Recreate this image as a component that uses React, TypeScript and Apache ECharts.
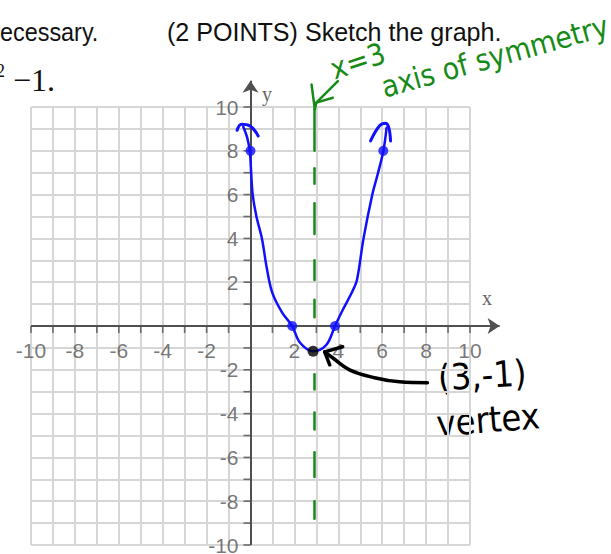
import React, { useEffect, useRef } from "react";
import * as echarts from "echarts";

// ---- data ----
const xTicks = { min: -10, max: 10, step: 1 };
const yTicks = { min: -10, max: 10, step: 1 };
const xLabelValues = [-10, -8, -6, -4, -2, 2, 4, 6, 8, 10];
const yLabelValues = [-10, -8, -6, -4, -2, 2, 4, 6, 8, 10];

// hand-drawn parabola y = (x-3)^2 - 1
const curvePoints: [number, number][] = [
  [-0.33, 9.1], [-0.15, 8.6], [-0.03, 7.95], [0.03, 7.0], [0.1, 6.0], [0.27, 5.0],
  [0.52, 4.0], [0.75, 2.6], [1.0, 1.5], [1.45, 0.6], [1.9, 0.0], [2.25, -0.75],
  [2.85, -1.15], [3.45, -0.87], [3.85, 0.0], [4.2, 0.73], [4.65, 1.6], [4.85, 2.1],
  [5.15, 4.0], [5.55, 6.0], [5.8, 6.95], [6.05, 7.98], [6.2, 9.05],
];
const keyPoints: [number, number][] = [[0, 8], [1.9, 0], [3.85, 0], [6.05, 8]];
const vertexPoint: [number, number][] = [[2.85, -1.15]];
const leftHook: [number, number][] = [[-0.61, 8.94], [-0.41, 9.21], [-0.03, 9.14], [0.35, 8.68]];
const rightHook: [number, number][] = [[5.47, 8.45], [5.88, 9.14], [6.15, 9.26], [6.3, 9.06], [6.38, 8.45]];

// axis of symmetry x = 3 (drawn at about x = 2.9), dashes as [yTop, yBottom]
const symmetryX = 2.9;
const symmetryDashes: [number, number][] = [
  [9.9, 8.0], [7.2, 6.5], [5.6, 4.2], [3.0, 2.1], [1.2, 0.4],
  [-2.2, -2.9], [-3.95, -4.73], [-5.77, -6.9], [-8.0, -8.8],
];
const greenArrowShaft: [number, number][] = [[3.98, 11.18], [3.0, 10.2], [2.93, 9.9]];
const greenArrowArm1: [number, number][] = [[2.78, 11.03], [2.93, 9.9]];
const greenArrowArm2: [number, number][] = [[3.0, 10.2], [3.75, 10.42]];

// black arrow pointing at the vertex
const vertexArrowShaft: [number, number][] = [[8.06, -2.59], [6.79, -2.55], [5.65, -2.36], [4.51, -2.0], [3.74, -1.45], [3.38, -1.18]];
const vertexArrowArm1: [number, number][] = [[4.2, -0.95], [3.38, -1.18]];
const vertexArrowArm2: [number, number][] = [[3.38, -1.18], [3.61, -1.77]];

// axis lines with arrows
const xAxisArrow: [number, number][] = [[-10, 0], [11.35, 0]];
const yAxisArrow: [number, number][] = [[0, -10], [0, 11.2]];

const headerLeft = "ecessary.";
const headerRight = "(2 POINTS) Sketch the graph.";
const eqTail = "\u22121.";
const eqSup = "2";
const noteSymX = "x=3";
const noteSym = "axis of symmetry";
const noteVertexPt = "(3,-1)";
const noteVertex = "vertex";

const BLUE = "#1010ff";
const GREEN = "#178a17";
const AXIS = "#505050";
const GRIDC = "#d6d6d6";
const LABELC = "#555555";

function stroke(data: [number, number][], color: string, width: number, smooth: number | boolean = false, z = 5) {
  return {
    type: "line",
    data,
    smooth,
    symbol: "none",
    clip: false,
    z,
    lineStyle: { color, width, cap: "round", join: "round" },
    silent: true,
  };
}

export default function App() {
  const ref = useRef<HTMLDivElement>(null);
  useEffect(() => {
    if (!ref.current) return;
    const chart = echarts.init(ref.current, undefined, { renderer: "svg" });
    const labelFont = "'Liberation Sans', Arial, sans-serif";
    const axisCommon = {
      type: "value",
      interval: 1,
      axisLine: { show: false, onZero: true },
      axisTick: { show: false },
      axisLabel: { show: false },
      splitLine: { show: true, lineStyle: { color: GRIDC, width: 2 } },
    };
    const tickLabelStyle = {
      show: true,
      color: LABELC,
      fontSize: 21,
      fontFamily: labelFont,
      formatter: (p: any) => String(p.data.v),
    };
    chart.setOption({
      animation: false,
      backgroundColor: "#ffffff",
      grid: { left: 31, top: 107, width: 439, height: 438, containLabel: false, outerBoundsMode: "none" },
      xAxis: { ...axisCommon, min: xTicks.min, max: xTicks.max },
      yAxis: { ...axisCommon, min: yTicks.min, max: yTicks.max },
      graphic: [
        { type: "text", x: 0, y: 19, scaleX: 0.9, style: { text: headerLeft, font: "26px 'Liberation Sans', Arial, sans-serif", fill: "#111" } },
        { type: "text", x: 167, y: 19, scaleX: 0.965, style: { text: headerRight, font: "26px 'Liberation Sans', Arial, sans-serif", fill: "#111" } },
        { type: "text", x: -4, y: 62, style: { text: eqSup, font: "18px 'Liberation Serif', 'Times New Roman', serif", fill: "#111" } },
        { type: "text", x: 13, y: 64, style: { text: eqTail, font: "32px 'Liberation Serif', 'Times New Roman', serif", fill: "#111" } },
        { type: "text", x: 262, y: 84, style: { text: "y", font: "20px 'Liberation Serif', serif", fill: "#666" } },
        { type: "text", x: 482, y: 288, style: { text: "x", font: "20px 'Liberation Serif', serif", fill: "#666" } },
        { type: "text", x: 336, y: 84, rotation: 0.32, style: { text: noteSymX, font: "30px 'DejaVu Sans Condensed', 'DejaVu Sans', sans-serif", fill: GREEN, textVerticalAlign: "bottom" } },
        { type: "text", x: 386, y: 102, rotation: 0.27, style: { text: noteSym, font: "30px 'DejaVu Sans Condensed', 'DejaVu Sans', sans-serif", fill: GREEN, textVerticalAlign: "bottom" } },
        { type: "text", x: 437, y: 360, rotation: 0.06, style: { text: noteVertexPt, font: "36px 'DejaVu Sans Condensed', 'DejaVu Sans', sans-serif", fill: "#000" } },
        { type: "text", x: 435, y: 406, rotation: 0.08, style: { text: noteVertex, font: "36px 'DejaVu Sans Condensed', 'DejaVu Sans', sans-serif", fill: "#000" } },
      ],
      series: [
        {
          type: "lines",
          coordinateSystem: "cartesian2d",
          polyline: false,
          clip: false,
          z: 3,
          symbol: ["none", "arrow"],
          symbolSize: 12,
          lineStyle: { color: AXIS, width: 2, opacity: 1 },
          data: [{ coords: xAxisArrow }, { coords: yAxisArrow }],
          silent: true,
        },
        {
          // tick marks on the x axis
          type: "scatter",
          data: Array.from({ length: 21 }, (_, i) => [xTicks.min + i * xTicks.step, 0]).filter((d) => d[0] !== 0),
          symbol: "rect",
          symbolSize: [1.6, 7],
          symbolOffset: [0, 3.5],
          itemStyle: { color: AXIS },
          z: 3,
          silent: true,
        },
        {
          // tick marks on the y axis
          type: "scatter",
          data: Array.from({ length: 21 }, (_, i) => [0, yTicks.min + i * yTicks.step]).filter((d) => d[1] !== 0),
          symbol: "rect",
          symbolSize: [7, 1.6],
          symbolOffset: [-3.5, 0],
          itemStyle: { color: AXIS },
          z: 3,
          silent: true,
        },
        {
          type: "scatter",
          data: xLabelValues.map((v) => ({ value: [v, 0], v })),
          symbolSize: 0,
          label: { ...tickLabelStyle, position: "bottom", distance: 14 },
          z: 3,
          silent: true,
        },
        {
          type: "scatter",
          data: yLabelValues.map((v) => ({ value: [0, v], v })),
          symbolSize: 0,
          label: { ...tickLabelStyle, position: "left", distance: 12 },
          z: 3,
          silent: true,
        },
        {
          type: "lines",
          coordinateSystem: "cartesian2d",
          polyline: false,
          clip: false,
          z: 4,
          lineStyle: { color: GREEN, width: 2.5, opacity: 1, cap: "round" },
          data: symmetryDashes.map(([a, b]) => ({ coords: [[symmetryX, a], [symmetryX, b]] })),
          silent: true,
        },
        stroke(greenArrowShaft, GREEN, 2.5),
        stroke(greenArrowArm1, GREEN, 2.5),
        stroke(greenArrowArm2, GREEN, 2.5),
        stroke(curvePoints, BLUE, 2.5, 0.35, 6),
        stroke(leftHook, BLUE, 3, 0.4, 6),
        stroke(rightHook, BLUE, 3, 0.4, 6),
        {
          type: "scatter",
          data: keyPoints,
          symbolSize: 10,
          itemStyle: { color: BLUE },
          z: 7,
          silent: true,
        },
        {
          type: "scatter",
          data: vertexPoint,
          symbolSize: 11,
          itemStyle: { color: "#000" },
          z: 7,
          silent: true,
        },
        stroke(vertexArrowShaft, "#000", 3.5, 0.4, 8),
        stroke(vertexArrowArm1, "#000", 3.5, false, 8),
        stroke(vertexArrowArm2, "#000", 3.5, false, 8),
      ],
    });
    return () => chart.dispose();
  }, []);
  return (
    <div
      ref={ref}
      style={{ position: "absolute", left: 0, top: 0, width: 611, height: 554, background: "#fff" }}
    />
  );
}
